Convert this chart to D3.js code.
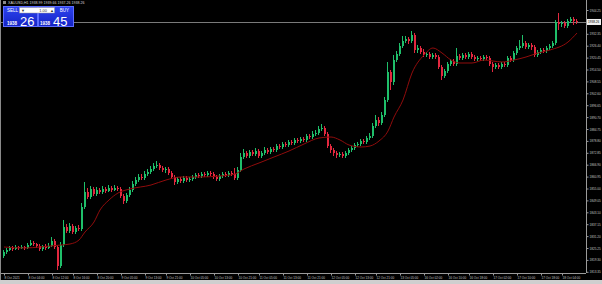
<!DOCTYPE html>
<html lang="en">

<head>
    <meta charset="UTF-8">
    <title>XAUUSD H1 Candles</title>
    <script src="https://d3js.org/d3.v7.min.js"></script>
    <style>
        body {
            margin: 0;
            background: #000;
        }
        
        svg {
            display: block;
            font-family: "Liberation Sans", Arial, sans-serif;
        }
    </style>
</head>

<body>
    <div id="chart"></div>

    <script>
        // Step 1: the candles (open of each bar = close of the bar before)
        const firstOpen = 1821.25;

        const closes = [
            1823.25, 1824.25, 1825.25, 1824.75, 1825.75, 1825.25, 1825.75, 1825.25, 1826.75, 1827.75,
            1827.25, 1826.25, 1824.75, 1826.25, 1825.25, 1826.25, 1828.75, 1825.75, 1816.25, 1826.75,
            1835.75, 1833.75, 1836.25, 1833.25, 1835.25, 1834.75, 1845.75, 1853.25, 1850.75, 1854.75,
            1852.25, 1854.25, 1853.25, 1854.75, 1853.75, 1855.25, 1854.25, 1855.25, 1854.75, 1851.25,
            1848.75, 1851.75, 1854.25, 1857.25, 1859.25, 1860.75, 1860.25, 1862.25, 1863.25, 1864.75,
            1866.25, 1866.75, 1865.25, 1864.25, 1864.75, 1862.75, 1860.75, 1858.25, 1859.75, 1858.75,
            1860.25, 1859.25, 1859.75, 1860.75, 1861.75, 1861.25, 1862.25, 1861.75, 1862.75, 1862.25,
            1860.75, 1859.75, 1861.25, 1862.25, 1861.75, 1862.75, 1862.25, 1860.25, 1864.25, 1870.75,
            1872.75, 1871.25, 1873.25, 1872.25, 1873.75, 1871.25, 1872.75, 1874.25, 1873.25, 1874.75,
            1874.25, 1876.25, 1875.75, 1877.25, 1876.75, 1878.25, 1877.75, 1879.25, 1878.75, 1879.75,
            1879.25, 1881.25, 1880.75, 1882.25, 1882.75, 1884.75, 1885.25, 1882.25, 1876.25, 1874.25,
            1872.75, 1871.75, 1872.25, 1871.25, 1872.75, 1874.25, 1875.25, 1876.75, 1877.25, 1878.75,
            1878.25, 1880.25, 1881.25, 1886.25, 1889.25, 1887.75, 1891.75, 1899.25, 1913.25, 1908.25,
            1919.25, 1922.25, 1926.25, 1928.75, 1929.75, 1928.75, 1931.75, 1924.25, 1925.25, 1923.25,
            1921.75, 1922.25, 1920.75, 1921.75, 1920.75, 1915.75, 1911.25, 1913.75, 1917.25, 1918.75,
            1917.25, 1921.25, 1920.25, 1921.75, 1920.75, 1922.25, 1920.75, 1919.75, 1920.25, 1919.75,
            1920.75, 1920.25, 1917.25, 1915.75, 1916.75, 1915.75, 1917.25, 1916.75, 1920.25, 1919.25,
            1922.75, 1925.25, 1926.25, 1927.75, 1925.75, 1926.75, 1925.75, 1921.75, 1923.25, 1924.25,
            1923.75, 1925.25, 1926.25, 1927.75, 1938.25, 1937.25, 1937.75, 1936.25, 1938.75, 1939.75,
            1938.75, 1938.26
        ];

        const highs = [
            1824.25, 1825.25, 1826.25, 1826.25, 1826.75, 1826.25, 1826.75, 1826.25, 1827.75, 1829.25,
            1828.75, 1827.75, 1827.25, 1826.75, 1827.25, 1827.75, 1830.75, 1829.75, 1826.75, 1828.25,
            1839.25, 1837.25, 1837.75, 1837.25, 1836.25, 1836.75, 1847.75, 1858.25, 1855.25, 1856.25,
            1855.75, 1855.75, 1855.25, 1856.25, 1855.75, 1856.75, 1856.25, 1856.75, 1856.25, 1855.75,
            1852.25, 1852.75, 1855.75, 1858.75, 1860.75, 1862.25, 1862.25, 1863.75, 1864.75, 1866.25,
            1867.75, 1868.75, 1867.75, 1866.25, 1865.75, 1865.75, 1863.75, 1861.75, 1860.75, 1860.75,
            1861.25, 1861.25, 1860.75, 1861.75, 1862.75, 1862.75, 1863.25, 1863.25, 1863.75, 1863.75,
            1863.25, 1861.75, 1862.25, 1863.25, 1863.25, 1863.75, 1863.75, 1865.25, 1865.75, 1872.75,
            1874.75, 1873.75, 1874.25, 1874.25, 1875.25, 1874.75, 1873.75, 1875.75, 1875.25, 1875.75,
            1875.75, 1877.25, 1877.25, 1878.25, 1878.25, 1879.25, 1879.25, 1880.25, 1880.25, 1880.75,
            1880.75, 1882.25, 1882.25, 1883.75, 1884.25, 1886.25, 1887.25, 1886.25, 1883.25, 1877.25,
            1875.25, 1873.75, 1873.25, 1873.25, 1873.75, 1875.25, 1876.25, 1877.75, 1878.25, 1879.75,
            1879.75, 1881.25, 1882.75, 1887.75, 1891.75, 1890.75, 1893.25, 1900.75, 1918.25, 1914.25,
            1921.75, 1923.75, 1927.75, 1931.25, 1931.25, 1930.75, 1933.75, 1932.75, 1926.75, 1926.25,
            1924.75, 1923.25, 1923.25, 1922.75, 1922.75, 1921.75, 1916.75, 1914.75, 1918.25, 1919.75,
            1919.75, 1925.25, 1922.25, 1922.75, 1922.75, 1923.25, 1923.25, 1921.75, 1921.25, 1921.25,
            1921.75, 1921.75, 1921.25, 1918.25, 1917.75, 1917.75, 1918.25, 1918.25, 1921.25, 1921.25,
            1923.75, 1926.25, 1929.25, 1931.75, 1928.75, 1927.75, 1927.75, 1926.75, 1924.25, 1925.25,
            1925.25, 1926.25, 1927.25, 1928.75, 1939.25, 1942.75, 1938.75, 1938.75, 1939.75, 1940.75,
            1940.75, 1939.75
        ];

        const lows = [
            1820.25, 1822.25, 1823.75, 1823.75, 1824.25, 1824.25, 1824.75, 1824.25, 1824.75, 1826.25,
            1826.25, 1825.25, 1823.75, 1823.75, 1824.25, 1824.75, 1825.75, 1824.75, 1814.25, 1815.25,
            1825.75, 1832.75, 1832.75, 1832.25, 1832.25, 1833.75, 1833.75, 1844.75, 1849.75, 1849.75,
            1851.25, 1851.25, 1852.25, 1852.25, 1852.75, 1853.25, 1853.25, 1853.75, 1853.75, 1850.25,
            1847.25, 1847.75, 1850.75, 1853.25, 1856.25, 1858.25, 1859.25, 1859.25, 1861.25, 1862.25,
            1863.75, 1865.25, 1864.25, 1863.25, 1862.75, 1861.75, 1859.75, 1856.75, 1857.25, 1857.75,
            1857.75, 1858.25, 1858.25, 1858.75, 1859.75, 1860.25, 1860.25, 1860.75, 1860.75, 1861.25,
            1859.75, 1858.75, 1858.75, 1860.25, 1860.75, 1860.75, 1861.25, 1859.25, 1859.25, 1863.25,
            1869.75, 1870.25, 1870.25, 1871.25, 1871.25, 1870.25, 1870.25, 1871.75, 1872.25, 1872.25,
            1873.25, 1873.25, 1874.75, 1874.75, 1875.75, 1875.75, 1876.75, 1876.75, 1877.75, 1877.75,
            1878.25, 1878.25, 1879.75, 1879.75, 1881.25, 1881.75, 1883.75, 1881.25, 1875.25, 1872.75,
            1871.25, 1870.25, 1870.75, 1870.25, 1870.25, 1871.75, 1873.25, 1874.25, 1875.75, 1876.25,
            1877.25, 1877.25, 1879.25, 1880.25, 1885.25, 1886.25, 1886.75, 1890.75, 1898.25, 1904.25,
            1906.75, 1918.25, 1921.25, 1925.25, 1927.75, 1927.25, 1927.75, 1922.75, 1922.75, 1922.25,
            1920.75, 1920.75, 1919.75, 1919.75, 1919.75, 1914.75, 1909.25, 1910.25, 1912.75, 1916.25,
            1916.25, 1916.25, 1919.25, 1919.25, 1919.75, 1919.75, 1919.75, 1918.75, 1918.75, 1918.75,
            1918.75, 1919.25, 1916.25, 1913.25, 1914.75, 1914.75, 1914.75, 1915.75, 1915.75, 1918.25,
            1918.25, 1921.75, 1924.25, 1925.25, 1924.75, 1924.75, 1924.25, 1920.75, 1920.75, 1922.25,
            1922.75, 1922.75, 1924.25, 1925.25, 1926.75, 1934.25, 1935.75, 1935.25, 1935.25, 1937.75,
            1936.75, 1937.25
        ];

        // moving average (red line), read at some bars
        const maBars = [0, 7, 12, 19, 22, 25, 27, 30, 32, 35, 38, 42, 49, 54, 59, 65, 72, 77, 80, 85,
            90, 95, 100, 105, 109, 112, 115, 119, 122, 125, 128, 130, 133, 136, 140, 143, 146, 149, 152, 156,
            160, 163, 166, 170, 174, 178, 182, 188, 191
        ];
        const maValues = [1825.75, 1825.25, 1825.75, 1826.75, 1827.25, 1829.25, 1833.25, 1838.25, 1844.25, 1849.25,
            1852.75, 1854.75, 1856.75, 1859.25, 1860.75, 1860.75, 1861.25, 1862.25, 1864.75, 1867.75,
            1870.75, 1873.75, 1877.25, 1880.25, 1880.75, 1879.25, 1876.75, 1875.75, 1876.25, 1878.75,
            1883.75, 1890.75, 1899.25, 1912.75, 1921.75, 1925.25, 1922.75, 1919.25, 1917.75, 1917.75,
            1919.25, 1918.75, 1918.25, 1919.25, 1920.75, 1922.75, 1924.25, 1928.25, 1932.75
        ];

        const priceTicks = [1944.25, 1932.35, 1926.40, 1920.45, 1914.50, 1908.55, 1902.60, 1896.65, 1890.70,
            1884.75, 1878.80, 1872.85, 1866.90, 1860.95, 1855.00, 1849.05, 1843.10, 1837.15, 1831.20,
            1825.25, 1819.30, 1813.35
        ];

        const timeLabels = ["8 Oct 2021", "8 Oct 04:00", "8 Oct 12:00", "8 Oct 16:00", "8 Oct 20:00",
            "9 Oct 05:00", "9 Oct 13:00", "9 Oct 21:00", "10 Oct 05:00", "10 Oct 13:00", "10 Oct 21:00",
            "11 Oct 05:00", "11 Oct 13:00", "11 Oct 21:00", "12 Oct 05:00", "12 Oct 13:00", "12 Oct 21:00",
            "13 Oct 05:00", "16 Oct 02:00", "16 Oct 10:00", "16 Oct 18:00", "17 Oct 02:00", "17 Oct 10:00",
            "17 Oct 18:00", "18 Oct 04:00"
        ];
        const timeLabelBars = [0, 8, 16, 23, 31, 39, 47, 54, 62, 70, 78, 85, 93, 101, 109, 117, 124, 132,
            140, 148, 155, 163, 171, 179, 186
        ];

        const symbolLine = "XAUUSD,H1  1938.99 1939.66 1937.26 1938.26";
        const lastPrice = 1938.26;
        const sellQuote = ["1938", "26"];
        const buyQuote = ["1938", "45"];
        const lotSize = "1.00";

        // Step 2: svg and scales
        const width = 602,
            height = 284;
        const axisX = 586,
            axisY = 273;
        const tinyFont = "3.1px";

        const svg = d3.select("#chart")
            .append("svg")
            .attr("width", width)
            .attr("height", height);

        svg.append("rect")
            .attr("width", width)
            .attr("height", height)
            .attr("fill", "#000");

        const x = d3.scaleBand()
            .domain(d3.range(closes.length))
            .range([2, 578])
            .paddingInner(0.34)
            .round(true);

        const y = d3.scaleLinear()
            .domain([1812.75, 1944.25])
            .range([273, 10]);

        const bars = closes.map((c, i) => ({
            i: i,
            open: i === 0 ? firstOpen : closes[i - 1],
            close: c,
            high: highs[i],
            low: lows[i]
        }));

        const green = "#1fbf6a",
            red = "#e3283f";
        const colorOf = d => d.close >= d.open ? green : red;

        // bid line
        svg.append("line")
            .attr("x1", 0)
            .attr("x2", axisX)
            .attr("y1", Math.round(y(lastPrice)) + 0.5)
            .attr("y2", Math.round(y(lastPrice)) + 0.5)
            .attr("stroke", "#7a7a7a")
            .attr("stroke-width", 1);

        // Step 3: candles
        const candles = svg.append("g")
            .attr("shape-rendering", "crispEdges")
            .selectAll("g")
            .data(bars)
            .enter()
            .append("g");

        candles.append("line")
            .attr("x1", d => x(d.i) + 0.5)
            .attr("x2", d => x(d.i) + 0.5)
            .attr("y1", d => y(d.high))
            .attr("y2", d => y(d.low))
            .attr("stroke", colorOf)
            .attr("stroke-width", 1);

        candles.append("rect")
            .attr("x", d => x(d.i))
            .attr("y", d => y(Math.max(d.open, d.close)))
            .attr("width", x.bandwidth())
            .attr("height", d => Math.max(1, Math.abs(y(d.open) - y(d.close))))
            .attr("fill", colorOf);

        // Step 4: moving average
        const maLine = d3.line()
            .x(d => x(d[0]) + 1)
            .y(d => y(d[1]))
            .curve(d3.curveMonotoneX);

        svg.append("path")
            .datum(maBars.map((b, k) => [b, maValues[k]]))
            .attr("d", maLine)
            .attr("fill", "none")
            .attr("stroke", "#900c0c")
            .attr("stroke-width", 1);

        // Step 5: axes
        svg.append("line")
            .attr("x1", axisX + 0.5).attr("x2", axisX + 0.5)
            .attr("y1", 0).attr("y2", axisY)
            .attr("stroke", "#9a9a9a");

        svg.append("line")
            .attr("x1", 0).attr("x2", axisX)
            .attr("y1", axisY + 0.5).attr("y2", axisY + 0.5)
            .attr("stroke", "#9a9a9a");

        const yAxis = svg.append("g")
            .attr("transform", `translate(${axisX + 0.5},0)`)
            .call(d3.axisRight(y).tickValues(priceTicks).tickSize(2).tickPadding(1).tickFormat(d3.format(".2f")));
        yAxis.select(".domain").remove();
        yAxis.selectAll("line").attr("stroke", "#9a9a9a");
        yAxis.selectAll("text")
            .attr("fill", "#c4c4c4")
            .style("font-size", tinyFont);

        const xAxis = svg.append("g")
            .attr("transform", `translate(0,${axisY + 0.5})`)
            .call(d3.axisBottom(x).tickValues(timeLabelBars).tickSize(2).tickPadding(1)
                .tickFormat((d, k) => timeLabels[k]));
        xAxis.select(".domain").remove();
        xAxis.selectAll("line").attr("stroke", "#9a9a9a");
        xAxis.selectAll("text")
            .attr("fill", "#c4c4c4")
            .style("font-size", tinyFont)
            .style("text-anchor", "start")
            .attr("x", 0);

        // last price box on the axis
        svg.append("rect")
            .attr("x", axisX + 1)
            .attr("y", y(lastPrice) - 3)
            .attr("width", 14)
            .attr("height", 6)
            .attr("fill", "#f0f0f0");
        svg.append("text")
            .attr("x", axisX + 2)
            .attr("y", y(lastPrice) + 1.2)
            .attr("fill", "#000")
            .style("font-size", tinyFont)
            .text(d3.format(".2f")(lastPrice));

        // window edges
        svg.append("rect")
            .attr("x", 0).attr("y", 0)
            .attr("width", 1).attr("height", 280)
            .attr("fill", "#8a8a8a");
        svg.append("rect")
            .attr("x", 0).attr("y", 280)
            .attr("width", width).attr("height", 4)
            .attr("fill", "#cfcfcf");

        // Step 6: symbol line and one-click panel
        svg.append("rect")
            .attr("x", 3).attr("y", 1)
            .attr("width", 3).attr("height", 3)
            .attr("fill", "#8a8a8a");
        svg.append("text")
            .attr("x", 8).attr("y", 4)
            .attr("fill", "#d8d8d8")
            .style("font-size", "3.6px")
            .text(symbolLine);

        const panel = svg.append("g");
        const blue = panel.append("defs").append("linearGradient")
            .attr("id", "blue").attr("x1", 0).attr("x2", 0).attr("y1", 0).attr("y2", 1);
        blue.append("stop").attr("offset", 0).attr("stop-color", "#2e44f0");
        blue.append("stop").attr("offset", 1).attr("stop-color", "#1423c4");

        [
            [3, 34, "SELL", sellQuote],
            [38, 35, "BUY", buyQuote]
        ].forEach(([bx, bw, label, q]) => {
            panel.append("rect")
                .attr("x", bx + 0.5).attr("y", 6.5)
                .attr("width", bw).attr("height", 20)
                .attr("fill", "url(#blue)")
                .attr("stroke", "#5d6dff")
                .attr("stroke-width", 1);
            panel.append("text")
                .attr("x", label === "SELL" ? bx + 4 : bx + bw - 4)
                .attr("y", 12)
                .attr("text-anchor", label === "SELL" ? "start" : "end")
                .attr("fill", "#fff")
                .style("font-size", "4.5px")
                .text(label);
            panel.append("text")
                .attr("x", label === "SELL" ? bx + 4 : bx + 2)
                .attr("y", 25)
                .attr("fill", "#fff")
                .style("font-size", "4.5px")
                .style("font-weight", "bold")
                .text(q[0]);
            panel.append("text")
                .attr("x", label === "SELL" ? bx + 17 : bx + 15)
                .attr("y", 26)
                .attr("fill", "#fff")
                .style("font-size", "13px")
                .text(q[1]);
        });

        panel.append("rect")
            .attr("x", 19.5).attr("y", 7.5)
            .attr("width", 35).attr("height", 5.5)
            .attr("fill", "#fff")
            .attr("stroke", "#9a9a9a")
            .attr("stroke-width", 0.5);
        panel.append("text")
            .attr("x", 21).attr("y", 12)
            .attr("fill", "#333")
            .style("font-size", "4px")
            .text("\u25BC");
        panel.append("text")
            .attr("x", 47).attr("y", 12)
            .attr("text-anchor", "end")
            .attr("fill", "#333")
            .style("font-size", "4px")
            .text(lotSize);
        panel.append("text")
            .attr("x", 50).attr("y", 12)
            .attr("fill", "#333")
            .style("font-size", "4px")
            .text("\u25B2");
    </script>
</body>

</html>
